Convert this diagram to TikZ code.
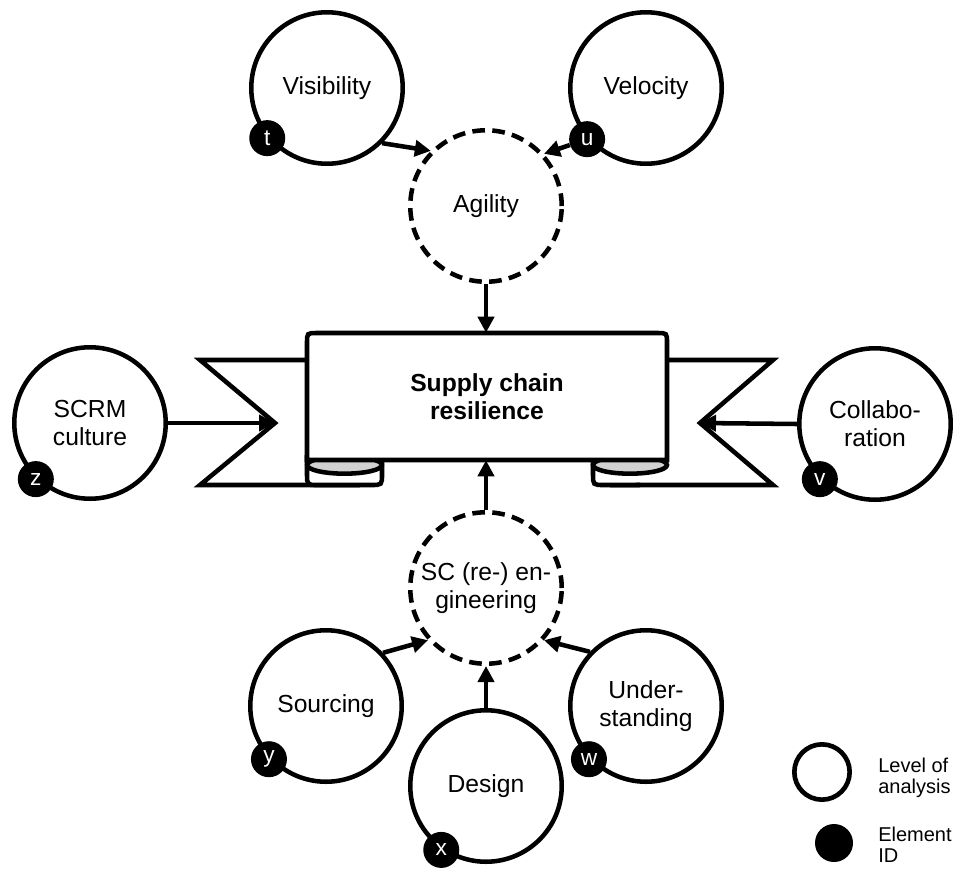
\documentclass[tikz,border=0pt]{standalone}
\usepackage{fontspec}
\setmainfont{Liberation Sans}
\usetikzlibrary{arrows.meta}
\begin{document}
\begin{tikzpicture}[x=0.75pt,y=-0.75pt,
  lw/.style={line width=3.4pt},
  lvl/.style={circle,draw,lw,minimum size=113.6pt,inner sep=0pt,align=center,
    font=\fontsize{18.5}{21}\selectfont,fill=white},
  lvld/.style={lvl,dash pattern=on 9.5pt off 5.5pt},
  eid/.style={circle,fill=black,minimum size=27pt,inner sep=0pt,text=white,
    font=\fontsize{17}{17}\selectfont},
  arr/.style={lw,-{Triangle[length=12pt,width=12pt]}},
  legtext/.style={anchor=west,align=left,inner sep=0pt,font=\fontsize{15}{16}\selectfont}
]
\useasboundingbox (0,0) rectangle (953,868);

% ribbon tails
\draw[lw,fill=white,line join=miter] (320,360) -- (200,360) -- (275,423) -- (200,485) -- (360,485);
\draw[lw,fill=white,line join=miter] (655,360) -- (773,360) -- (700,423) -- (773,485) -- (610,485);
% curls
\draw[lw,fill=white] (307,455) -- (307,474) .. controls (307,485) .. (318,485) -- (371,485) .. controls (382,485) .. (382,474) -- (382,455);
\draw[lw,fill=black!18] (344.5,465) ellipse [x radius=28pt, y radius=6.5pt];
\draw[lw,fill=white] (593,455) -- (593,474) .. controls (593,485) .. (604,485) -- (640,485);
\draw[lw,fill=black!18] (630,465) ellipse [x radius=27.75pt, y radius=6.5pt];
% central panel
\draw[lw,fill=white] (307,460) -- (307,343) .. controls (307,333) .. (317,333) -- (657,333) .. controls (667,333) .. (667,343) -- (667,460) -- cycle;
\node[minimum width=270pt,minimum height=95.25pt,inner sep=0pt,align=center,
  font=\bfseries\fontsize{18.5}{21}\selectfont] (scr) at (487,396.5) {Supply chain\\resilience};
\coordinate (ln) at (275,423);
\coordinate (rn) at (700,423);

% level nodes
\node[lvl] (vis) at (327,88) {Visibility};
\node[lvl] (vel) at (646,88) {Velocity};
\node[lvld] (ag) at (486,206) {Agility};
\node[lvl] (scrm) at (90,423) {SCRM\\culture};
\node[lvl] (col) at (875,424) {Collabo-\\ration};
\node[lvld] (sc) at (486,588) {SC (re-) en-\\gineering};
\node[lvl] (sou) at (326,706) {Sourcing};
\node[lvl] (des) at (486,786) {Design};
\node[lvl] (und) at (646,706) {Under-\\standing};

% element IDs
\node[eid] (t) at (vis.220) {t};
\node[eid] (u) at (vel.221) {u};
\node[eid] (z) at (scrm.226) {z};
\node[eid] (v) at (col.225) {v};
\node[eid] (y) at (sou.223) {y};
\node[eid] (x) at (des.235) {x};
\node[eid] (w) at (und.223) {w};

% connectors
\draw[arr] (vis.-45) -- (ag.135);
\draw[arr] (u) -- (ag.42);
\draw[arr] (ag.south) -- (ag.south |- scr.north);
\draw[arr] (scrm.east) -- (ln);
\draw[arr] (col.west) -- (rn);
\draw[arr] (sc.north) -- (sc.north |- scr.south);
\draw[arr] (sou.43) -- (sc.222);
\draw[arr] (und.136) -- (sc.318);
\draw[arr] (des.north) -- (sc.south);

% legend
\node[circle,draw,line width=3.5pt,minimum size=41.5pt,inner sep=0pt] (lg1) at (822,772) {};
\node[circle,fill=black,minimum size=28.5pt,inner sep=0pt] (lg2) at (834,843) {};
\node[legtext] (lt1) at (878,777.5) {Level of\\analysis};
\node[legtext] (lt2) at (878,844.5) {Element\\ID};
\end{tikzpicture}
\end{document}
